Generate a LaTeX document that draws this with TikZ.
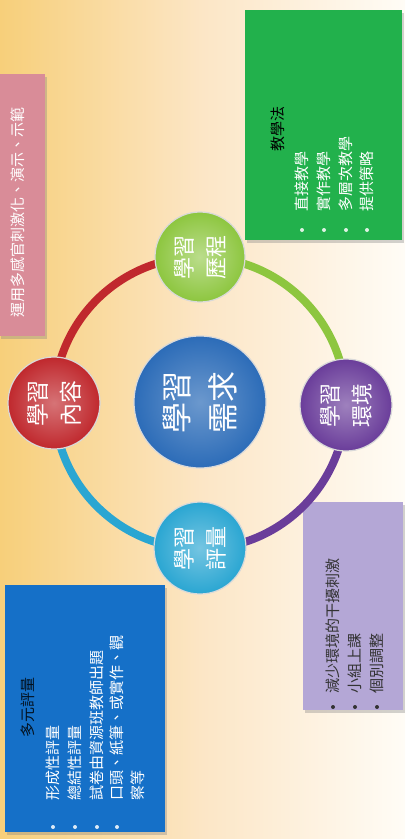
\documentclass[tikz,border=0pt]{standalone}
\usepackage{fontspec}
\setmainfont{Noto Sans CJK TC}
\usetikzlibrary{shadows}
\definecolor{bgL}{HTML}{F7CF7A}
\definecolor{bgM}{HTML}{FCE6C6}
\definecolor{bgR}{HTML}{FFFCF6}
\definecolor{pinkbox}{HTML}{D98C98}
\definecolor{greenbox}{HTML}{22B14C}
\definecolor{bluebox}{HTML}{1570C8}
\definecolor{purplebox}{HTML}{B4A7D6}
\definecolor{cred}{HTML}{C0282D}
\definecolor{cgreen}{HTML}{8DC63F}
\definecolor{cpurple}{HTML}{6A3D9A}
\definecolor{cteal}{HTML}{2AA6D2}
\definecolor{cblue}{HTML}{2C6CB8}
\begin{document}
\begin{tikzpicture}[x=1pt,y=-1pt,
  panel/.style={inner sep=0, outer sep=0, drop shadow={shadow xshift=2pt, shadow yshift=-3pt, opacity=.35}},
  itm/.style={rotate=90, anchor=west, inner sep=0, font=\fontsize{15}{15}\selectfont},
  ttl/.style={rotate=90, anchor=west, inner sep=0, font=\fontsize{15}{15}\selectfont},
  dot/.style={circle, inner sep=0, minimum size=4pt},
  ring/.style={line width=8pt},
  ball/.style={circle, inner sep=0, rotate=90, align=center, text=white, draw=white!85!black, line width=1.2pt},
]
\useasboundingbox (0,0) rectangle (405,839);
\shade[left color=bgL, right color=bgR, middle color=bgM] (0,0) rectangle (405,839);

% panels
\node[panel, fill=pinkbox, minimum width=46pt, minimum height=262pt, anchor=north west] (pinkp) at (-1,74) {};
\node[panel, fill=greenbox, minimum width=157pt, minimum height=230pt, anchor=north west] (greenp) at (245,10) {};
\node[panel, fill=purplebox, minimum width=100pt, minimum height=208pt, anchor=north west] (purplep) at (303,502) {};
\node[panel, fill=bluebox, minimum width=160pt, minimum height=247pt, anchor=north west] (bluep) at (5,585) {};

% pink text
\node[itm, text=white] (pk1) at (18,318) {運用多感官刺激化、演示、示範};

% green texts
\node[ttl, text=black] (gt) at (278,152) {教學法};
\node[itm, text=white] (g1) at (302,212) {直接教學};
\node[itm, text=white] (g2) at (324,212) {實作教學};
\node[itm, text=white] (g3) at (346,212) {多層次教學};
\node[itm, text=white] (g4) at (367,212) {提供策略};
\foreach \x/\n in {302/1,324/2,346/3,367/4} \node[dot, fill=white!85!greenbox] (gd\n) at (\x,230) {};

% purple texts
\node[itm, text=black!80] (p1) at (333,694) {減少環境的干擾刺激};
\node[itm, text=black!80] (p2) at (355,694) {小組上課};
\node[itm, text=black!80] (p3) at (377,694) {個別調整};
\foreach \x/\n in {333/1,355/2,377/3} \node[dot, fill=black!80] (pd\n) at (\x,707) {};

% blue texts
\node[ttl, text=black!85!bluebox] (bt) at (28,738) {多元評量};
\node[itm, text=white] (b1) at (53,801) {形成性評量};
\node[itm, text=white] (b2) at (75,801) {總結性評量};
\node[itm, text=white] (b3) at (97,801) {試卷由資源班教師出題};
\node[itm, text=white] (b4) at (117,801) {口頭、紙筆、或實作、觀};
\node[itm, text=white] (b5) at (138,801) {察等};
\foreach \x/\n in {53/1,75/2,97/3,117/4} \node[dot, fill=white!85!bluebox] (bd\n) at (\x,827) {};

% ring
\coordinate (rc) at (200,403);
\draw[ring, cred]    (rc) ++(-146,0) arc[start angle=180, end angle=90, radius=146pt];
\draw[ring, cgreen]  (rc) ++(0,-146) arc[start angle=90, end angle=0, radius=146pt];
\draw[ring, cpurple] (rc) ++(146,0) arc[start angle=0, end angle=-90, radius=146pt];
\draw[ring, cteal]   (rc) ++(0,146) arc[start angle=270, end angle=180, radius=146pt];

% circles
\node[ball, minimum size=92pt, inner color=cred!65!white, outer color=cred, font=\fontsize{23}{33}\selectfont] (nred) at (54,403) {學習\\內容};
\node[ball, minimum size=90pt, inner color=cgreen!60!white, outer color=cgreen, font=\fontsize{22}{32}\selectfont] (ngreen) at (200,257) {學習\\歷程};
\node[ball, minimum size=92pt, inner color=cpurple!65!white, outer color=cpurple, font=\fontsize{22}{32}\selectfont] (npurple) at (346,405) {學習\\環境};
\node[ball, minimum size=92pt, inner color=cteal!65!white, outer color=cteal, font=\fontsize{22}{32}\selectfont] (nteal) at (200,548) {學習\\評量};
\node[ball, minimum size=132pt, inner color=cblue!70!white, outer color=cblue, font=\fontsize{31}{46}\selectfont] (nblue) at (200,402) {學習\\需求};
\end{tikzpicture}
\end{document}
